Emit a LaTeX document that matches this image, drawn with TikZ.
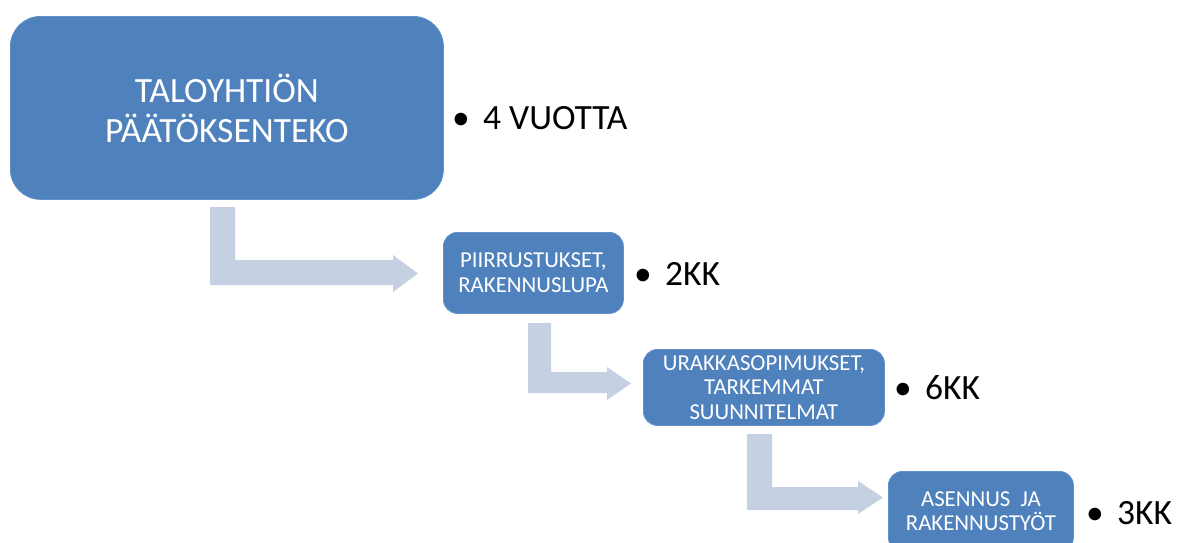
\documentclass[tikz,border=0pt]{standalone}
\usepackage{fontspec}
\setmainfont{Carlito}
\definecolor{boxblue}{RGB}{79,129,189}
\definecolor{boxedge}{RGB}{96,145,202}
\definecolor{arrowgray}{RGB}{197,208,227}
\newcommand{\bentarrow}[9]{%
  \fill[arrowgray] (#1,#3) -- (#2,#3) -- (#2,#4) -- (#6,#4) -- (#6,#7)
    -- (#9,{(#7+#8)/2}) -- (#6,#8) -- (#6,#5) -- (#1,#5) -- cycle;}
\tikzset{
  stage/.style={fill=boxblue, draw=boxedge, line width=0.8pt, text=white,
    align=center, inner sep=0pt, anchor=north west},
  bigtext/.style={font=\fontsize{35.5}{40}\selectfont},
  smalltext/.style={font=\fontsize{22.8}{24.5}\selectfont},
  item/.style={anchor=base west, inner sep=0pt, text=black,
    font=\fontsize{35.5}{40}\selectfont},
}
\newcommand{\bul}{\makebox[31pt][l]{•}}
\begin{document}
\begin{tikzpicture}[x=1pt,y=-1pt]
\useasboundingbox (0,0) rectangle (1178,542);
\clip (0,0) rectangle (1178,542);
\fill[white] (0,0) rectangle (1178,542);
% boxes
\node[stage, bigtext, rounded corners=30pt, minimum width=433pt, minimum height=183pt]
  (b1) at (10,16) {TALOYHTIÖN\\PÄÄTÖKSENTEKO};
\node[stage, smalltext, rounded corners=14pt, minimum width=180pt, minimum height=81pt]
  (b2) at (443,232) {PIIRRUSTUKSET,\\RAKENNUSLUPA};
\node[stage, smalltext, rounded corners=14pt, minimum width=241pt, minimum height=76pt]
  (b3) at (643,349) {URAKKASOPIMUKSET,\\TARKEMMAT\\SUUNNITELMAT};
\node[stage, smalltext, rounded corners=14pt, minimum width=185pt, minimum height=80pt]
  (b4) at (888,471) {ASENNUS\ \ JA\\RAKENNUSTYÖT};
% bent arrows
\bentarrow{210}{235}{207}{260}{285}{393}{255}{292}{418}
\bentarrow{528}{551}{323}{372}{393}{607}{367}{400}{631}
\bentarrow{747}{772}{434}{487}{510}{858}{481}{514}{883}
% bullet items
\node[item] (t1) at (452,129) {\bul 4 VUOTTA};
\node[item] (t2) at (634,285) {\bul 2KK};
\node[item] (t3) at (894,399) {\bul 6KK};
\node[item] (t4) at (1086,524) {\bul 3KK};
\end{tikzpicture}
\end{document}
